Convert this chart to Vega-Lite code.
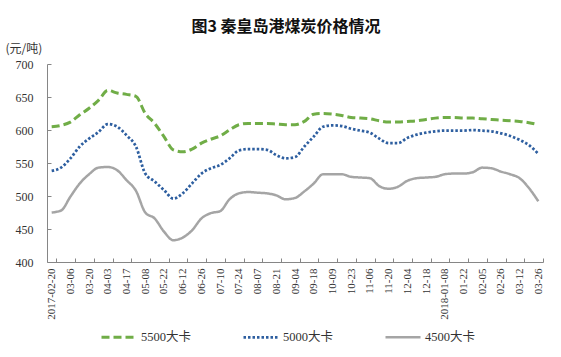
{
  "$schema": "https://vega.github.io/schema/vega-lite/v6.json",
  "width": 496,
  "height": 198,
  "autosize": {"type": "none"},
  "padding": {"left": 47, "top": 64, "right": 18, "bottom": 95},
  "background": "white",
  "title": {"text": "图3 秦皇岛港煤炭价格情况", "font": "Noto Sans CJK SC", "fontSize": 16, "fontWeight": "bold", "color": "#111111", "anchor": "middle", "dx": -9, "offset": 7},
  "data": {"values": [
    {"d": "2017-02-20", "5500大卡": 605, "5000大卡": 538, "4500大卡": 475},
    {"d": "2017-02-27", "5500大卡": 607, "5000大卡": 543, "4500大卡": 478},
    {"d": "2017-03-06", "5500大卡": 612, "5000大卡": 557, "4500大卡": 499},
    {"d": "2017-03-13", "5500大卡": 623, "5000大卡": 575, "4500大卡": 519},
    {"d": "2017-03-20", "5500大卡": 633, "5000大卡": 587, "4500大卡": 533},
    {"d": "2017-03-27", "5500大卡": 645, "5000大卡": 597, "4500大卡": 543},
    {"d": "2017-04-03", "5500大卡": 660, "5000大卡": 609, "4500大卡": 544},
    {"d": "2017-04-10", "5500大卡": 656, "5000大卡": 605, "4500大卡": 539},
    {"d": "2017-04-17", "5500大卡": 654, "5000大卡": 592, "4500大卡": 524},
    {"d": "2017-04-24", "5500大卡": 651, "5000大卡": 575, "4500大卡": 508},
    {"d": "2017-05-08", "5500大卡": 625, "5000大卡": 534, "4500大卡": 475},
    {"d": "2017-05-15", "5500大卡": 610, "5000大卡": 522, "4500大卡": 466},
    {"d": "2017-05-22", "5500大卡": 590, "5000大卡": 509, "4500大卡": 446},
    {"d": "2017-06-05", "5500大卡": 570, "5000大卡": 496, "4500大卡": 433},
    {"d": "2017-06-12", "5500大卡": 567, "5000大卡": 504, "4500大卡": 437},
    {"d": "2017-06-19", "5500大卡": 571, "5000大卡": 519, "4500大卡": 448},
    {"d": "2017-06-26", "5500大卡": 580, "5000大卡": 534, "4500大卡": 466},
    {"d": "2017-07-03", "5500大卡": 586, "5000大卡": 542, "4500大卡": 474},
    {"d": "2017-07-10", "5500大卡": 591, "5000大卡": 547, "4500大卡": 477},
    {"d": "2017-07-17", "5500大卡": 600, "5000大卡": 557, "4500大卡": 495},
    {"d": "2017-07-24", "5500大卡": 608, "5000大卡": 569, "4500大卡": 504},
    {"d": "2017-07-31", "5500大卡": 610, "5000大卡": 571, "4500大卡": 506},
    {"d": "2017-08-07", "5500大卡": 610, "5000大卡": 571, "4500大卡": 505},
    {"d": "2017-08-14", "5500大卡": 610, "5000大卡": 570, "4500大卡": 504},
    {"d": "2017-08-21", "5500大卡": 609, "5000大卡": 562, "4500大卡": 501},
    {"d": "2017-08-28", "5500大卡": 608, "5000大卡": 557, "4500大卡": 495},
    {"d": "2017-09-04", "5500大卡": 608, "5000大卡": 559, "4500大卡": 497},
    {"d": "2017-09-11", "5500大卡": 613, "5000大卡": 575, "4500大卡": 507},
    {"d": "2017-09-18", "5500大卡": 624, "5000大卡": 590, "4500大卡": 519},
    {"d": "2017-09-25", "5500大卡": 625, "5000大卡": 605, "4500大卡": 533},
    {"d": "2017-10-09", "5500大卡": 624, "5000大卡": 607, "4500大卡": 533},
    {"d": "2017-10-16", "5500大卡": 622, "5000大卡": 606, "4500大卡": 533},
    {"d": "2017-10-23", "5500大卡": 619, "5000大卡": 602, "4500大卡": 529},
    {"d": "2017-10-30", "5500大卡": 618, "5000大卡": 599, "4500大卡": 528},
    {"d": "2017-11-06", "5500大卡": 617, "5000大卡": 596, "4500大卡": 527},
    {"d": "2017-11-13", "5500大卡": 614, "5000大卡": 587, "4500大卡": 515},
    {"d": "2017-11-20", "5500大卡": 612, "5000大卡": 580, "4500大卡": 511},
    {"d": "2017-11-27", "5500大卡": 612, "5000大卡": 580, "4500大卡": 514},
    {"d": "2017-12-04", "5500大卡": 613, "5000大卡": 588, "4500大卡": 523},
    {"d": "2017-12-11", "5500大卡": 614, "5000大卡": 593, "4500大卡": 527},
    {"d": "2017-12-18", "5500大卡": 616, "5000大卡": 596, "4500大卡": 528},
    {"d": "2017-12-25", "5500大卡": 618, "5000大卡": 598, "4500大卡": 529},
    {"d": "2018-01-08", "5500大卡": 619, "5000大卡": 599, "4500大卡": 533},
    {"d": "2018-01-15", "5500大卡": 619, "5000大卡": 599, "4500大卡": 534},
    {"d": "2018-01-22", "5500大卡": 618, "5000大卡": 599, "4500大卡": 534},
    {"d": "2018-01-29", "5500大卡": 618, "5000大卡": 600, "4500大卡": 536},
    {"d": "2018-02-05", "5500大卡": 617, "5000大卡": 599, "4500大卡": 543},
    {"d": "2018-02-12", "5500大卡": 616, "5000大卡": 598, "4500大卡": 542},
    {"d": "2018-02-26", "5500大卡": 615, "5000大卡": 595, "4500大卡": 537},
    {"d": "2018-03-05", "5500大卡": 614, "5000大卡": 591, "4500大卡": 533},
    {"d": "2018-03-12", "5500大卡": 613, "5000大卡": 585, "4500大卡": 527},
    {"d": "2018-03-19", "5500大卡": 611, "5000大卡": 577, "4500大卡": 512},
    {"d": "2018-03-26", "5500大卡": 608, "5000大卡": 564, "4500大卡": 492}
  ]},
  "transform": [{"fold": ["5500大卡", "5000大卡", "4500大卡"], "as": ["series", "value"]}],
  "mark": {"type": "line", "interpolate": "monotone", "strokeCap": "butt"},
  "encoding": {
    "x": {
      "field": "d", "type": "ordinal", "sort": null,
      "scale": {"type": "point", "padding": 0.5},
      "axis": {
        "title": null,
        "values": ["2017-02-20","2017-03-06","2017-03-20","2017-04-03","2017-04-17","2017-05-08","2017-05-22","2017-06-12","2017-06-26","2017-07-10","2017-07-24","2017-08-07","2017-08-21","2017-09-04","2017-09-18","2017-10-09","2017-10-23","2017-11-06","2017-11-20","2017-12-04","2017-12-18","2018-01-08","2018-01-22","2018-02-05","2018-02-26","2018-03-12","2018-03-26"],
        "labelExpr": "datum.value == '2017-02-20' || datum.value == '2018-01-08' ? datum.value : substring(datum.value, 5)",
        "labelAngle": -90,
        "labelFont": "Liberation Serif",
        "labelFontSize": 11,
        "labelColor": "#333333",
        "labelOverlap": false,
        "labelFlush": false,
        "labelPadding": 10,
        "tickSize": -4,
        "tickOffset": 4.68,
        "labelOffset": -4.68,
        "tickColor": "#868686",
        "domainColor": "#868686",
        "grid": false
      }
    },
    "y": {
      "field": "value", "type": "quantitative",
      "scale": {"domain": [400, 700], "nice": false, "zero": false},
      "axis": {
        "values": [400, 450, 500, 550, 600, 650, 700],
        "title": "(元/吨)",
        "titleAngle": 0,
        "titleAlign": "left",
        "titleBaseline": "middle",
        "titleX": -42,
        "titleY": -16,
        "titleFont": "Noto Sans CJK SC",
        "titleFontSize": 12,
        "titleFontWeight": "normal",
        "titleColor": "#333333",
        "labelFont": "Liberation Serif",
        "labelFontSize": 12,
        "labelColor": "#333333",
        "labelPadding": 18,
        "tickSize": -4,
        "tickColor": "#868686",
        "domainColor": "#868686",
        "grid": false
      }
    },
    "color": {
      "field": "series", "type": "nominal",
      "scale": {"domain": ["5500大卡", "5000大卡", "4500大卡"], "range": ["#70AD47", "#2E5FA0", "#A5A5A5"]},
      "legend": {
        "orient": "none", "legendX": 53, "legendY": 254, "direction": "horizontal", "title": null,
        "symbolType": "stroke", "symbolSize": 1225,
        "labelFont": "Liberation Serif, Noto Sans CJK SC", "labelFontSize": 12.5, "labelColor": "#333333",
        "columnPadding": 46, "labelOffset": 3
      }
    },
    "strokeDash": {
      "field": "series", "type": "nominal",
      "scale": {"domain": ["5500大卡", "5000大卡", "4500大卡"], "range": [[8, 4], [2.5, 2], [1, 0]]}
    },
    "strokeWidth": {
      "field": "series", "type": "nominal",
      "scale": {"domain": ["5500大卡", "5000大卡", "4500大卡"], "range": [3, 2.5, 2]}
    }
  },
  "config": {"view": {"stroke": null}}
}
